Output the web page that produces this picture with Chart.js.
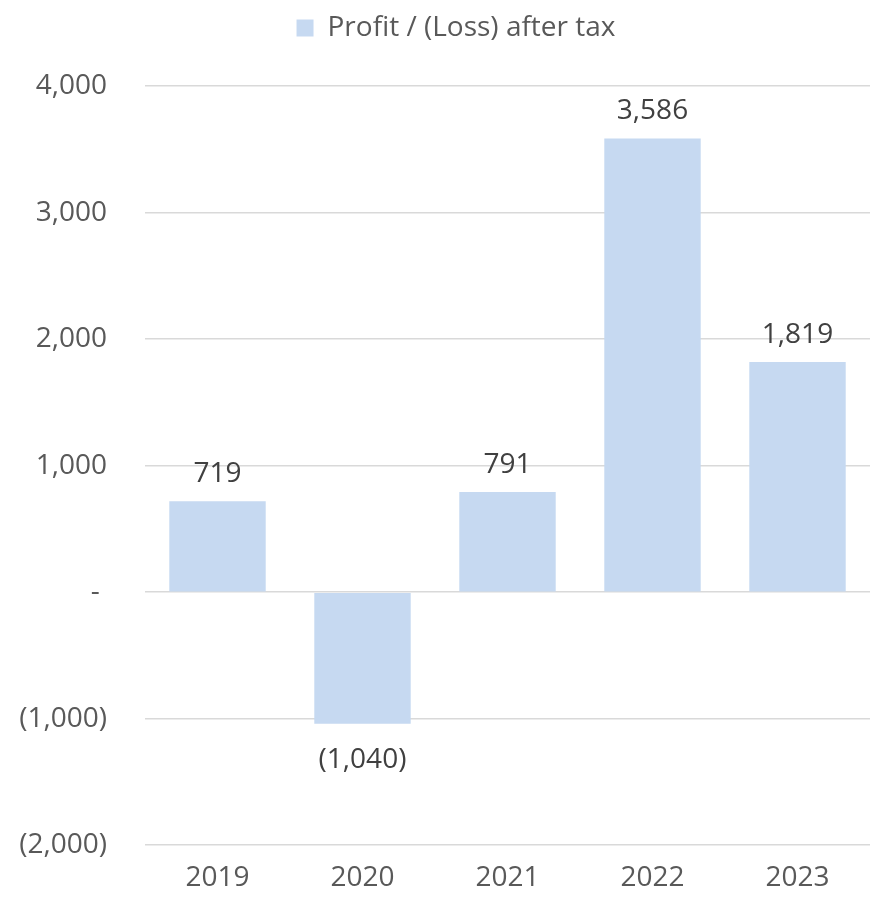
<!DOCTYPE html>
<html>
<head>
<meta charset="utf-8">
<script src="https://cdn.jsdelivr.net/npm/chart.js@4"></script>
<style>
  html, body { margin: 0; padding: 0; background: #fff; }
  #wrap { width: 870px; height: 900px; }
</style>
</head>
<body>
<div id="wrap"><canvas id="profitChart"></canvas></div>
<script>
const years = ['2019', '2020', '2021', '2022', '2023'];
const profitAfterTax = [719, -1040, 791, 3586, 1819];
const yTicks = [-2000, -1000, 0, 1000, 2000, 3000, 4000];

const textColor = '#595959';
const fontFamily = "'Open Sans', 'Noto Sans', sans-serif";

function fmt(v) {
  if (v === 0) return '- ';
  const s = Math.abs(v).toLocaleString('en-US');
  return v < 0 ? '(' + s + ')' : s;
}

// value labels above / below each bar
const barLabels = {
  id: 'barLabels',
  afterDatasetsDraw(chart) {
    const ctx = chart.ctx;
    const meta = chart.getDatasetMeta(0);
    ctx.save();
    ctx.font = '28px ' + fontFamily;
    ctx.fillStyle = '#404040';
    ctx.textAlign = 'center';
    ctx.textBaseline = 'alphabetic';
    meta.data.forEach((bar, i) => {
      const v = profitAfterTax[i];
      const y = v >= 0 ? bar.y - 19 : bar.y + 44;
      ctx.fillText(fmt(v), bar.x, y);
    });
    ctx.restore();
  }
};

// more room under the legend, and nudge it a bit right/down
const legendTweak = {
  id: 'legendTweak',
  beforeInit(chart) {
    const legend = chart.legend;
    const fit = legend.fit;
    legend.fit = function () {
      fit.bind(legend)();
      this.height += 36;
    };
    const draw = legend.draw;
    legend.draw = function () {
      const ctx = chart.ctx;
      ctx.save();
      ctx.translate(21, 2);
      draw.bind(legend)();
      ctx.restore();
    };
  }
};

let chart = new Chart(document.getElementById('profitChart'), {
  type: 'bar',
  data: {
    labels: years,
    datasets: [{
      label: 'Profit / (Loss) after tax',
      data: profitAfterTax,
      backgroundColor: '#C6D9F1',
      borderWidth: 0,
      barPercentage: 0.665,
      categoryPercentage: 1
    }]
  },
  plugins: [barLabels, legendTweak],
  options: {
    responsive: true,
    maintainAspectRatio: false,
    animation: false,
    layout: { padding: 0 },
    plugins: {
      legend: {
        position: 'top',
        labels: {
          color: textColor,
          font: { family: fontFamily, size: 28 },
          boxWidth: 17,
          boxHeight: 17,
          padding: 12
        }
      },
      tooltip: { enabled: false }
    },
    scales: {
      x: {
        grid: { display: false },
        border: { display: false },
        ticks: { color: textColor, font: { family: fontFamily, size: 28 }, padding: 8 },
        afterFit(scale) { scale.height = 53; }
      },
      y: {
        min: -2000,
        max: 4000,
        afterBuildTicks(scale) { scale.ticks = yTicks.map(v => ({ value: v })); },
        grid: { color: '#D9D9D9', lineWidth: 1.5, drawTicks: false },
        border: { display: false },
        ticks: {
          color: textColor,
          font: { family: fontFamily, size: 28 },
          padding: 38,
          callback: v => fmt(v)
        },
        afterFit(scale) { scale.width = 145; }
      }
    }
  }
});
</script>
</body>
</html>
